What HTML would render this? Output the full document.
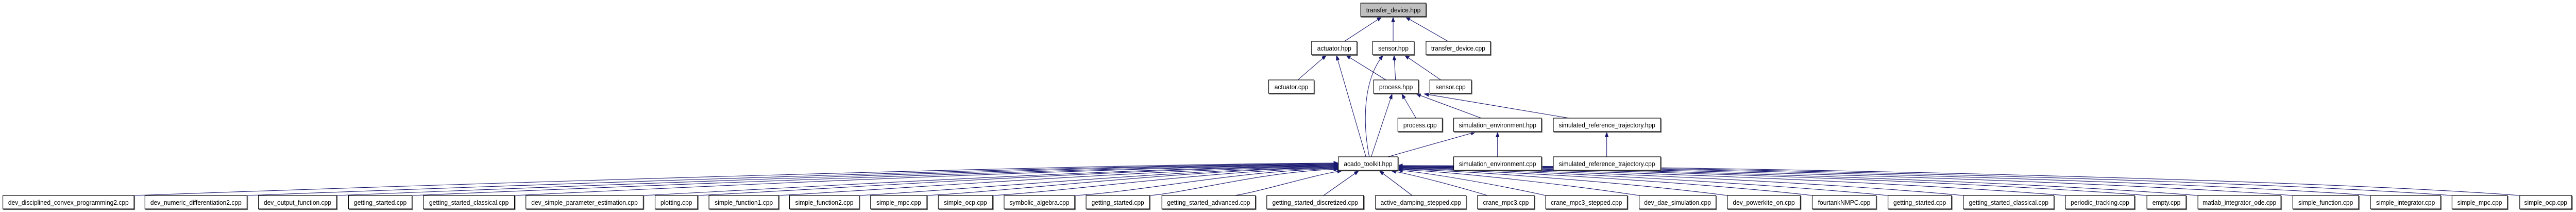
<!DOCTYPE html>
<html><head><meta charset="utf-8"><style>
html,body{margin:0;padding:0;background:#fff;width:100%;height:100%;overflow:hidden;}
svg{display:block;position:absolute;left:0;top:0;width:100vw;height:100vh;}
text{font-family:"Liberation Sans",Helvetica,Arial,sans-serif;font-size:13px;fill:#000;}
.b{fill:#fff;stroke:#000;stroke-width:1.2;}
.e{fill:none;stroke:#191970;stroke-width:1.1;}
</style></head><body>
<svg viewBox="0 0 5403 411" preserveAspectRatio="none" xmlns="http://www.w3.org/2000/svg">
<defs><marker id="a" markerUnits="userSpaceOnUse" markerWidth="11" markerHeight="8" refX="10" refY="4" orient="auto"><path d="M0,0 L11,4 L0,8 z" fill="#191970"/></marker>
<filter id="sh" x="-5%" y="-20%" width="110%" height="150%"><feDropShadow dx="1.5" dy="1.5" stdDeviation="0" flood-color="#666"/></filter></defs>
<g class="e" marker-end="url(#a)">
<path d="M2820,80 L2898,33"/>
<path d="M2922,80 L2922,33"/>
<path d="M3037,80 L2948,33"/>
<path d="M2722,155 L2782,107"/>
<path d="M2907,155 L2823,107"/>
<path d="M2865,304 L2803,107"/>
<path d="M2872,304 C2860,250 2855,160 2901,107"/>
<path d="M2927,155 L2924,107"/>
<path d="M3022,155 L2946,107"/>
<path d="M2876,304 L2920,182"/>
<path d="M2970,229 L2940,182"/>
<path d="M3107,229 L2970,182"/>
<path d="M3291,229 L2987,182"/>
<path d="M2911,304 L3095,256"/>
<path d="M3141,304 L3141,256"/>
<path d="M3370,304 L3370,256"/>
<path d="M281,379 C1000,355 2300,318 2807,316"/>
<path d="M518,379 C1200,355 2300,320 2807,317"/>
<path d="M706,379 C1300,357 2300,321 2807,318"/>
<path d="M864,379 C1400,358 2350,322 2807,319"/>
<path d="M1079,379 C1500,360 2350,323 2807,320"/>
<path d="M1349,379 C1700,362 2400,324 2807,321"/>
<path d="M1463,379 C1800,363 2400,325 2807,322"/>
<path d="M1633,379 C1900,365 2450,326 2807,323"/>
<path d="M1802,379 C2050,366 2500,327 2807,324"/>
<path d="M1944,379 C2150,368 2500,328 2807,325"/>
<path d="M2082,379 C2250,370 2550,329 2807,326"/>
<path d="M2254,379 C2400,371 2600,330 2807,327"/>
<path d="M2411,379 C2500,372 2650,332 2808,328"/>
<path d="M2590,379 C2650,370 2750,340 2815,331"/>
<path d="M2776,379 L2850,331"/>
<path d="M2962,379 L2893,331"/>
<path d="M3120,379 C3050,360 2970,340 2918,331"/>
<path d="M3242,379 C3150,360 3000,335 2932,330"/>
<path d="M3438,379 C3300,360 3050,332 2932,329"/>
<path d="M3623,379 C3450,358 3100,331 2932,328"/>
<path d="M3801,379 C3600,357 3150,330 2932,327"/>
<path d="M3960,379 C3700,356 3200,329 2932,326"/>
<path d="M4118,379 C3850,355 3250,328 2932,326"/>
<path d="M4332,379 C4000,354 3300,327 2932,325"/>
<path d="M4503,379 C4150,353 3350,326 2932,324"/>
<path d="M4610,379 C4250,352 3400,325 2932,324"/>
<path d="M4809,379 C4400,351 3450,324 2932,323"/>
<path d="M4972,379 C4550,350 3500,323 2932,322"/>
<path d="M5143,379 C4700,349 3550,322 2932,322"/>
<path d="M5285,379 C4850,348 3600,321 2932,321"/>
</g>
<g filter="url(#sh)">
<rect class="b" x="2854" y="6" width="137" height="26" style="fill:#bfbfbf"/>
<rect class="b" x="2751" y="80" width="95" height="26"/>
<rect class="b" x="2879" y="80" width="87" height="26"/>
<rect class="b" x="2991" y="80" width="135" height="26"/>
<rect class="b" x="2661" y="155" width="95" height="26"/>
<rect class="b" x="2881" y="155" width="94" height="26"/>
<rect class="b" x="2999" y="155" width="87" height="26"/>
<rect class="b" x="2932" y="229" width="93" height="26"/>
<rect class="b" x="3049" y="229" width="184" height="26"/>
<rect class="b" x="3258" y="229" width="225" height="26"/>
<rect class="b" x="2807" y="304" width="125" height="26"/>
<rect class="b" x="3049" y="304" width="184" height="26"/>
<rect class="b" x="3258" y="304" width="225" height="26"/>
<rect class="b" x="6" y="379" width="275" height="26"/>
<rect class="b" x="304" y="379" width="214" height="26"/>
<rect class="b" x="542" y="379" width="164" height="26"/>
<rect class="b" x="731" y="379" width="133" height="26"/>
<rect class="b" x="888" y="379" width="191" height="26"/>
<rect class="b" x="1103" y="379" width="246" height="26"/>
<rect class="b" x="1374" y="379" width="89" height="26"/>
<rect class="b" x="1487" y="379" width="146" height="26"/>
<rect class="b" x="1656" y="379" width="146" height="26"/>
<rect class="b" x="1826" y="379" width="118" height="26"/>
<rect class="b" x="1968" y="379" width="114" height="26"/>
<rect class="b" x="2106" y="379" width="148" height="26"/>
<rect class="b" x="2278" y="379" width="133" height="26"/>
<rect class="b" x="2437" y="379" width="196" height="26"/>
<rect class="b" x="2657" y="379" width="203" height="26"/>
<rect class="b" x="2885" y="379" width="190" height="26"/>
<rect class="b" x="3099" y="379" width="119" height="26"/>
<rect class="b" x="3242" y="379" width="171" height="26"/>
<rect class="b" x="3438" y="379" width="161" height="26"/>
<rect class="b" x="3623" y="379" width="153" height="26"/>
<rect class="b" x="3801" y="379" width="134" height="26"/>
<rect class="b" x="3960" y="379" width="133" height="26"/>
<rect class="b" x="4118" y="379" width="190" height="26"/>
<rect class="b" x="4332" y="379" width="145" height="26"/>
<rect class="b" x="4503" y="379" width="82" height="26"/>
<rect class="b" x="4610" y="379" width="174" height="26"/>
<rect class="b" x="4809" y="379" width="138" height="26"/>
<rect class="b" x="4972" y="379" width="147" height="26"/>
<rect class="b" x="5143" y="379" width="116" height="26"/>
<rect class="b" x="5285" y="379" width="109" height="26"/>
</g>
<g text-anchor="middle">
<text x="2922.5" y="24">transfer_device.hpp</text>
<text x="2798.5" y="98">actuator.hpp</text>
<text x="2922.5" y="98">sensor.hpp</text>
<text x="3058.5" y="98">transfer_device.cpp</text>
<text x="2708.5" y="173">actuator.cpp</text>
<text x="2928" y="173">process.hpp</text>
<text x="3042.5" y="173">sensor.cpp</text>
<text x="2978.5" y="247">process.cpp</text>
<text x="3141" y="247">simulation_environment.hpp</text>
<text x="3370.5" y="247">simulated_reference_trajectory.hpp</text>
<text x="2869.5" y="322">acado_toolkit.hpp</text>
<text x="3141" y="322">simulation_environment.cpp</text>
<text x="3370.5" y="322">simulated_reference_trajectory.cpp</text>
<text x="143.5" y="397">dev_disciplined_convex_programming2.cpp</text>
<text x="411" y="397">dev_numeric_differentiation2.cpp</text>
<text x="624" y="397">dev_output_function.cpp</text>
<text x="797.5" y="397">getting_started.cpp</text>
<text x="983.5" y="397">getting_started_classical.cpp</text>
<text x="1226" y="397">dev_simple_parameter_estimation.cpp</text>
<text x="1418.5" y="397">plotting.cpp</text>
<text x="1560" y="397">simple_function1.cpp</text>
<text x="1729" y="397">simple_function2.cpp</text>
<text x="1885" y="397">simple_mpc.cpp</text>
<text x="2025" y="397">simple_ocp.cpp</text>
<text x="2180" y="397">symbolic_algebra.cpp</text>
<text x="2344.5" y="397">getting_started.cpp</text>
<text x="2535" y="397">getting_started_advanced.cpp</text>
<text x="2758.5" y="397">getting_started_discretized.cpp</text>
<text x="2980" y="397">active_damping_stepped.cpp</text>
<text x="3158.5" y="397">crane_mpc3.cpp</text>
<text x="3327.5" y="397">crane_mpc3_stepped.cpp</text>
<text x="3518.5" y="397">dev_dae_simulation.cpp</text>
<text x="3699.5" y="397">dev_powerkite_on.cpp</text>
<text x="3868" y="397">fourtankNMPC.cpp</text>
<text x="4026.5" y="397">getting_started.cpp</text>
<text x="4213" y="397">getting_started_classical.cpp</text>
<text x="4404.5" y="397">periodic_tracking.cpp</text>
<text x="4544" y="397">empty.cpp</text>
<text x="4697" y="397">matlab_integrator_ode.cpp</text>
<text x="4878" y="397">simple_function.cpp</text>
<text x="5045.5" y="397">simple_integrator.cpp</text>
<text x="5201" y="397">simple_mpc.cpp</text>
<text x="5339.5" y="397">simple_ocp.cpp</text>
</g>
</svg>
</body></html>
